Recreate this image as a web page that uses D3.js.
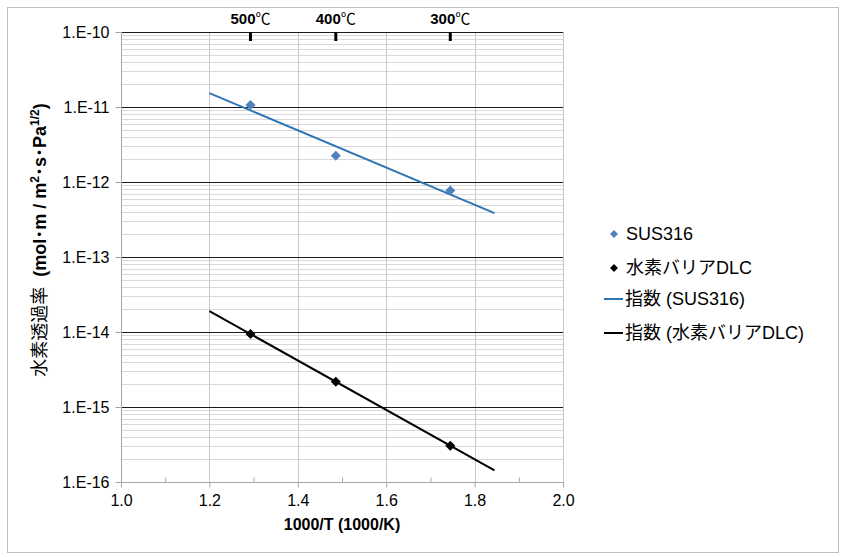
<!DOCTYPE html>
<html>
<head>
<meta charset="utf-8">
<script src="https://cdn.jsdelivr.net/npm/d3@7"></script>
<style>
  body { margin: 0; background: #fff; }
  text { font-family: "Liberation Sans", "Noto Sans CJK JP", sans-serif; fill: #000; }
</style>
</head>
<body>
<div id="chart"></div>
<script>
// データ
const invT = [1.293, 1.486, 1.745];            // 1000/T
const tempLabels = ['500', '400', '300'];      // ℃
const sus316 = [1.06e-11, 2.24e-12, 7.7e-13];
const dlc = [9.4e-15, 2.17e-15, 3.05e-16];
const trendRange = [1.2, 1.845];
const xTicks = [1.0, 1.2, 1.4, 1.6, 1.8, 2.0];
const seriesNames = ['SUS316', '水素バリアDLC'];
const seriesColors = ['#4f81bd', '#000000'];
const lineColors = ['#2e75b6', '#000000'];

const W = 841, H = 557;
const margin = { top: 32, right: 278, bottom: 75, left: 121 };
const plotW = W - margin.left - margin.right;
const plotH = H - margin.top - margin.bottom;

const svg = d3.select('#chart').append('svg')
    .attr('width', W).attr('height', H);

// 外枠
svg.append('rect')
    .attr('x', 7.5).attr('y', 7.5)
    .attr('width', 831).attr('height', 545)
    .attr('fill', 'none').attr('stroke', '#bfbfbf');

const chart = svg.append('g')
    .attr('transform', `translate(${margin.left}, ${margin.top})`);

const x = d3.scaleLinear().domain([1.0, 2.0]).range([0, plotW]);
const y = d3.scaleLog().domain([1e-16, 1e-10]).range([plotH, 0]);

// 補助目盛線 (minor)
const minorY = [];
for (let e = -16; e < -10; e++) {
    for (let m = 2; m <= 9; m++) minorY.push(m * Math.pow(10, e));
}
chart.selectAll('.minor-y').data(minorY).enter().append('line')
    .attr('x1', 0).attr('x2', plotW)
    .attr('y1', d => Math.round(y(d)) + 0.5).attr('y2', d => Math.round(y(d)) + 0.5)
    .attr('stroke', '#d9d9d9');

// 縦目盛線
chart.selectAll('.grid-x').data(xTicks).enter().append('line')
    .attr('x1', d => Math.round(x(d)) + 0.5).attr('x2', d => Math.round(x(d)) + 0.5)
    .attr('y1', 0).attr('y2', plotH)
    .attr('stroke', '#c8c8c8');

// 主目盛線 (major)
const majorY = d3.range(-15, -9).map(e => Math.pow(10, e));
chart.selectAll('.major-y').data(majorY).enter().append('line')
    .attr('x1', 0).attr('x2', plotW)
    .attr('y1', d => Math.round(y(d)) + 0.5).attr('y2', d => Math.round(y(d)) + 0.5)
    .attr('stroke', '#1a1a1a');

// x軸
const isMajorX = d => xTicks.some(t => Math.abs(t - d) < 1e-6);
const xAxis = d3.axisBottom(x).tickValues(d3.range(1.0, 2.01, 0.1))
    .tickSize(5).tickFormat(d => isMajorX(d) ? d.toFixed(1) : '');
const gx = chart.append('g')
    .attr('transform', `translate(0, ${plotH + 0.5})`)
    .call(xAxis);
gx.select('.domain').attr('stroke', '#a6a6a6').attr('d', `M0.5,0H${plotW + 0.5}`);
gx.selectAll('.tick line').attr('stroke', '#a6a6a6')
    .attr('y1', d => isMajorX(d) ? 5 : 0)
    .attr('y2', d => isMajorX(d) ? 0 : -5);
gx.selectAll('.tick text').attr('font-size', 16).attr('font-family', 'Liberation Sans')
    .attr('dy', '0.95em').attr('fill', '#222');

// y軸
const yAxis = d3.axisLeft(y).tickValues(d3.range(-16, -9).map(e => Math.pow(10, e)))
    .tickSize(6).tickFormat(d => '1.E' + Math.round(Math.log10(d)));
const gy = chart.append('g')
    .attr('transform', 'translate(0.5, 0)')
    .call(yAxis);
gy.select('.domain').attr('stroke', '#a6a6a6').attr('d', `M0,${plotH}V0`);
gy.selectAll('.tick line').attr('stroke', '#a6a6a6');
gy.selectAll('.tick text').attr('font-size', 16).attr('font-family', 'Liberation Sans')
    .attr('x', -12).attr('fill', '#222');

// 上部温度目盛
const gt = chart.append('g');
gt.selectAll('line').data(invT).enter().append('line')
    .attr('x1', d => x(d)).attr('x2', d => x(d))
    .attr('y1', 0).attr('y2', 9)
    .attr('stroke', '#000').attr('stroke-width', 3);
const tLab = gt.selectAll('text').data(tempLabels).enter().append('text')
    .attr('x', (d, i) => x(invT[i]))
    .attr('y', -8)
    .attr('text-anchor', 'middle')
    .attr('font-size', 15);
tLab.append('tspan').attr('font-weight', 'bold').text(d => d);
tLab.append('tspan').attr('font-family', 'Noto Sans CJK JP').attr('font-size', 15).text('℃');

// 近似曲線 (指数)
function expFit(xs, ys) {
    const ly = ys.map(v => Math.log10(v));
    const mx = d3.mean(xs), my = d3.mean(ly);
    const b = d3.sum(xs, (v, i) => (v - mx) * (ly[i] - my)) / d3.sum(xs, v => (v - mx) ** 2);
    return xv => Math.pow(10, my + b * (xv - mx));
}
const line = d3.line().x(d => x(d[0])).y(d => y(d[1]));
[sus316, dlc].forEach((ys, i) => {
    const f = expFit(invT, ys);
    chart.append('path')
        .datum(trendRange.map(v => [v, f(v)]))
        .attr('d', line)
        .attr('fill', 'none')
        .attr('stroke', lineColors[i])
        .attr('stroke-width', 2);
});

// データ点
const diamond = d3.symbol().type(d3.symbolDiamond2).size(64);
[sus316, dlc].forEach((ys, i) => {
    chart.selectAll('.pt' + i).data(ys).enter().append('path')
        .attr('d', diamond)
        .attr('transform', (d, j) => `translate(${x(invT[j])}, ${y(d)})`)
        .attr('fill', seriesColors[i]);
});

// 軸タイトル
chart.append('text')
    .attr('x', plotW / 2).attr('y', plotH + 48)
    .attr('text-anchor', 'middle')
    .attr('font-size', 16).attr('font-weight', 'bold')
    .text('1000/T (1000/K)');

const yt = svg.append('text')
    .attr('transform', `translate(46, 240) rotate(-90)`)
    .attr('text-anchor', 'middle')
    .attr('font-size', 18);
yt.append('tspan').attr('font-family', 'Noto Sans CJK JP').text('水素透過率');
yt.append('tspan').attr('font-weight', 'bold').attr('dx', 10).text('(mol･m / m');
yt.append('tspan').attr('font-weight', 'bold').attr('font-size', 12).attr('dy', -7).text('2');
yt.append('tspan').attr('font-weight', 'bold').attr('dy', 7).text('･s･Pa');
yt.append('tspan').attr('font-weight', 'bold').attr('font-size', 12).attr('dy', -7).text('1/2');
yt.append('tspan').attr('font-weight', 'bold').attr('dy', 7).text(')');

// 凡例
const legend = svg.append('g').attr('transform', 'translate(604, 0)');
const legItems = [
    { type: 'pt', color: seriesColors[0], label: seriesNames[0], y: 234 },
    { type: 'pt', color: seriesColors[1], label: seriesNames[1], y: 268 },
    { type: 'ln', color: lineColors[0], label: '指数 (' + seriesNames[0] + ')', y: 299 },
    { type: 'ln', color: lineColors[1], label: '指数 (' + seriesNames[1] + ')', y: 333 }
];
legItems.forEach(it => {
    if (it.type === 'pt') {
        legend.append('path')
            .attr('d', d3.symbol().type(d3.symbolDiamond2).size(40))
            .attr('transform', `translate(10, ${it.y})`)
            .attr('fill', it.color);
    } else {
        legend.append('line')
            .attr('x1', 0).attr('x2', 19)
            .attr('y1', it.y).attr('y2', it.y)
            .attr('stroke', it.color).attr('stroke-width', 2);
    }
    legend.append('text')
        .attr('x', it.type === 'pt' ? 22 : 21)
        .attr('y', it.y)
        .attr('dy', '0.36em')
        .attr('font-size', 18)
        .attr('font-family', 'Noto Sans CJK JP')
        .text(it.label);
});
</script>
</body>
</html>
